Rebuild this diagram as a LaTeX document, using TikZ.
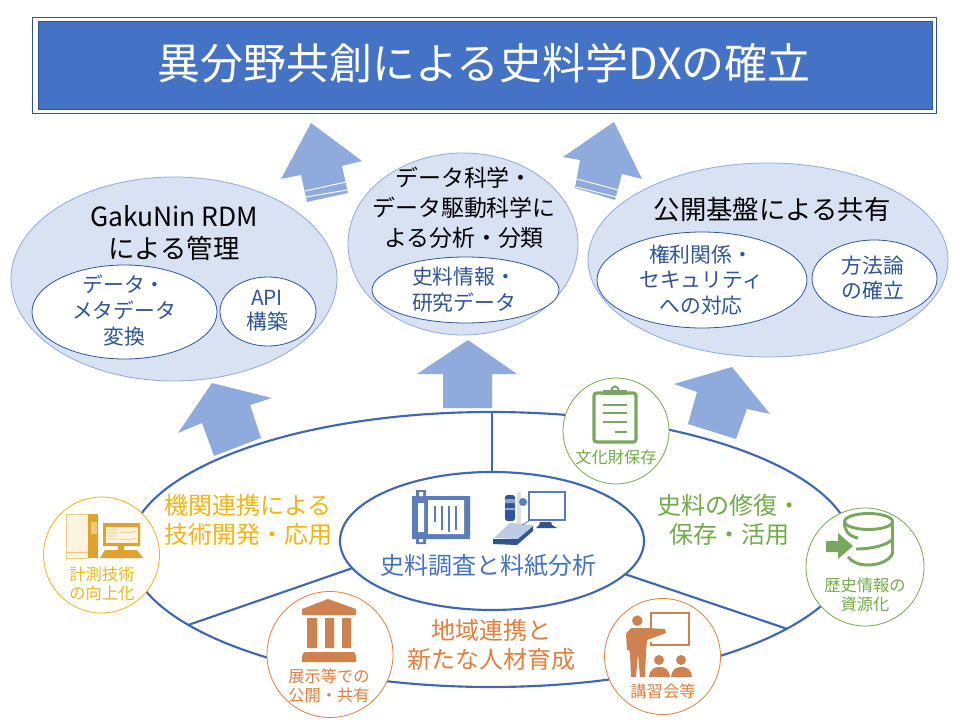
\documentclass[tikz,border=0pt]{standalone}
\usepackage{xcolor}
\usepackage{fontspec}
\setmainfont{Noto Sans CJK JP}
\usetikzlibrary{shapes,arrows,positioning}
\definecolor{titleblue}{HTML}{4472C4}
\definecolor{darkblue}{HTML}{2F5597}
\definecolor{arrowblue}{HTML}{8FAADC}
\definecolor{paleblue}{HTML}{D9E2F3}
\definecolor{ringblue}{HTML}{3F68B0}
\definecolor{iconblue}{HTML}{5B7DBB}
\definecolor{gold}{HTML}{F5B50F}
\definecolor{iconGold}{HTML}{DFA32B}
\definecolor{paleGold}{HTML}{FDF3E0}
\definecolor{rust}{HTML}{E27F3C}
\definecolor{iconRust}{HTML}{CE8250}
\definecolor{leaf}{HTML}{70AD47}
\definecolor{iconLeaf}{HTML}{78A85F}
\tikzset{
    bubble/.style={ellipse, draw=arrowblue, fill=paleblue, line width=0.6pt, inner sep=0pt, outer sep=0pt},
    topic/.style={ellipse, draw=darkblue, fill=white, line width=0.6pt, inner sep=0pt, outer sep=0pt},
    badge/.style={circle, draw=#1, fill=white, line width=0.6pt, inner sep=0pt, outer sep=0pt},
    wheel/.style={ellipse, draw=ringblue, line width=1.6pt, inner sep=0pt, outer sep=0pt},
    bigarrow/.style={fill=arrowblue, draw=none},
    headtext/.style={align=center, inner sep=0pt, font=\fontsize{19.8}{#1}\selectfont},
    topictext/.style={align=center, inner sep=0pt, text=darkblue, font=\fontsize{15.6}{#1}\selectfont},
    fieldtext/.style={align=center, inner sep=0pt, text=#1, font=\fontsize{18}{21.6}\selectfont},
    badgetext/.style={align=center, inner sep=0pt, text=#1, font=\fontsize{12.2}{14.3}\selectfont},
}
\begin{document}
\begin{tikzpicture}[x=0.75pt, y=-0.75pt]
    \useasboundingbox (0,0) rectangle (960,720);
    \fill[white] (0,0) rectangle (960,720);
    % title
    \draw[fill=white, draw=darkblue, line width=0.6pt] (32,17) rectangle (936,113);
    \draw[fill=titleblue, draw=darkblue, line width=0.6pt] (38,21) rectangle (932,109);
    \node[text=white, inner sep=0pt, font=\fontsize{32.2}{38}\selectfont] (title) at (484,63) {異分野共創による史料学DXの確立};
    % upper bubbles
    \node[bubble, minimum width=244.5pt, minimum height=153pt] (rdm) at (174,279) {};
    \node[topic, minimum width=138.75pt, minimum height=70.5pt] (rdmconv) at (124.5,312) {};
    \node[topic, minimum width=72pt, minimum height=51.75pt] (rdmapi) at (268,311.5) {};
    \node[bubble, minimum width=172.5pt, minimum height=136.5pt] (analysis) at (463,244) {};
    \node[topic, minimum width=140.25pt, minimum height=49.5pt] (analysisdata) at (465.5,290) {};
    \node[bubble, minimum width=270pt, minimum height=145.5pt] (share) at (768,260) {};
    \node[topic, minimum width=157.5pt, minimum height=72pt] (sharerights) at (702,280) {};
    \node[topic, minimum width=93.75pt, minimum height=57.75pt] (sharemethod) at (874.5,278.5) {};
    \node[headtext=24] (rdmhead) at (174,233) {GakuNin RDM\\による管理};
    \node[topictext=19.5] (rdmconvtext) at (124,311) {データ・\\メタデータ\\変換};
    \node[topictext=18] (rdmapitext) at (267,310.5) {API\\構築};
    \node[headtext=22.5, font=\fontsize{17.2}{22.5}\selectfont] (analysishead) at (464,208) {データ科学・\\データ駆動科学に\\よる分析・分類};
    \node[topictext=19] (analysisdatatext) at (464,289.5) {史料情報・\\研究データ};
    \node[headtext=24] (sharehead) at (772,209.5) {公開基盤による共有};
    \node[topictext=18.8] (sharerightstext) at (701,280) {権利関係・\\セキュリティ\\への対応};
    \node[topictext=18.8] (sharemethodtext) at (873,278.5) {方法論\\の確立};
    % block arrows
    \fill[bigarrow] (311,123) -- (362,161) -- (342,166) -- (348,193) -- (307,202) -- (301,175) -- (281,179) -- cycle;
    \draw[white, line width=0.7pt] (305,191) -- (346,182) (306,197) -- (347,190);
    \fill[bigarrow] (614,122) -- (642,179) -- (622,174) -- (615,200) -- (575,188) -- (580,160) -- (563,157) -- cycle;
    \draw[white, line width=0.7pt] (577,179) -- (618,190) (576,187) -- (616,197);
    \fill[bigarrow] (468,340) -- (517,374) -- (492,374) -- (492,408) -- (443,408) -- (443,374) -- (417,374) -- cycle;
    \fill[bigarrow] (212,383) -- (272,398) -- (250,405) -- (261,438) -- (214,456) -- (202,423) -- (178,433) -- cycle;
    \fill[bigarrow] (732,367) -- (770,414) -- (747,409) -- (736,439) -- (688,424) -- (697,392) -- (674,384) -- cycle;
    % lower wheel
    \node[wheel, minimum width=543pt, minimum height=206.25pt] (ring) at (491,549.5) {};
    \node[wheel, minimum width=228pt, minimum height=103.5pt] (hub) at (492,541) {};
    \draw[ringblue, line width=1.6pt] (ring.north -| hub.north) -- (hub.north);
    \draw[ringblue, line width=1.6pt] (ring.194.65) -- (hub.191.3);
    \draw[ringblue, line width=1.6pt] (ring.-15.6) -- (hub.-14.7);
    \node[fieldtext=titleblue] (hubtext) at (488.5,566) {史料調査と料紙分析};
    \node[fieldtext=gold] (techtext) at (248,520) {機関連携による\\技術開発・応用};
    \node[fieldtext=rust] (regiontext) at (491,645) {地域連携と\\新たな人材育成};
    \node[fieldtext=leaf] (repairtext) at (729,520) {史料の修復・\\保存・活用};
    % badges
    \node[badge=gold, minimum size=87pt] (measure) at (101.5,555) {};
    \node[badge=rust, minimum size=94.5pt] (exhibit) at (330,654.5) {};
    \node[badge=leaf, minimum size=79.5pt] (heritage) at (616,431) {};
    \node[badge=leaf, minimum size=88.5pt] (resource) at (865,567) {};
    \node[badge=rust, minimum size=87pt] (lecture) at (662.5,656.5) {};
    \node[badgetext=gold] (measuretext) at (102,584) {計測技術\\の向上化};
    \node[badgetext=rust] (exhibittext) at (329,686) {展示等での\\公開・共有};
    \node[badgetext=leaf] (heritagetext) at (616,457.5) {文化財保存};
    \node[badgetext=leaf] (resourcetext) at (865,595) {歴史情報の\\資源化};
    \node[badgetext=rust] (lecturetext) at (663,691.5) {講習会等};
    % scroll icon
    \fill[iconblue] (412,496) rectangle (470,539) (416,490) rectangle (426,496) (416,539) rectangle (426,544);
    \fill[white] (418,503) rectangle (424,532) (428,500) rectangle (464,534) (419,492) rectangle (423,496) (419,539) rectangle (423,542);
    \draw[iconblue, line width=1pt] (435,506) -- (435,522) (442,506) -- (442,530) (449,506) -- (449,532) (456,506) -- (456,530);
    % microscope icon
    \fill[gray!25] (517,492) rectangle (521,524);
    \fill[iconblue!40] (494,538) -- (510,523) -- (533,525) -- (518,539) -- cycle;
    \fill[darkblue] (493,539) -- (518,539) -- (533,526) -- (533,531) -- (517,545) -- (493,544) -- cycle;
    \fill[darkblue, rounded corners=2pt] (505,495) rectangle (515,521);
    \fill[iconblue!70] (505,499) rectangle (515,503) (505,508) rectangle (515,510);
    \fill[iconblue] (523,502) circle (4);
    \draw[iconblue, line width=1.6pt] (529,492) rectangle (565,520);
    \fill[darkblue] (540,522) -- (551,522) -- (552,525) -- (557,528) -- (536,528) -- (539,525) -- cycle;
    \draw[iconblue, line width=0.6pt] (529,521) -- (522,525);
    % instrument icon
    \fill[paleGold] (66,514) rectangle (88,558);
    \draw[iconGold!60, line width=0.4pt] (66,514) rectangle (88,558) (66,552) -- (88,552);
    \fill[iconGold] (88,514) rectangle (98,558);
    \fill[iconGold!60] (91,522) rectangle (97,534);
    \fill[iconGold] (103,523) rectangle (140,546) (118,546) rectangle (124,550);
    \fill[iconGold] (105,550) -- (137,550) -- (143,558) -- (100,558) -- cycle;
    \fill[paleGold] (106,527) rectangle (138,543);
    \draw[iconGold!70, line width=0.4pt] (107,530) -- (117,530) (107,533) -- (117,533) (107,536) -- (117,536) (107,539) -- (117,539) (119,533) -- (124,532) -- (129,533) -- (137,531) (119,540) -- (124,539) -- (129,540) -- (137,538);
    % museum icon
    \fill[iconRust] (302,609) -- (328,599) -- (356,609) -- (356,615) -- (302,615) -- cycle;
    \fill[iconRust] (307,618) rectangle (317,648) (325,618) rectangle (334,648) (342,618) rectangle (351,648);
    \fill[iconRust] (304,652) -- (354,652) -- (356,656) -- (356,662) -- (302,662) -- (302,656) -- cycle;
    % clipboard icon
    \draw[iconLeaf, line width=2.4pt, rounded corners=2pt] (594,393) rectangle (636,442);
    \fill[iconLeaf] (603,390) rectangle (627,395);
    \draw[iconLeaf, line width=1.5pt] (615,390) circle (3.5);
    \draw[iconLeaf, line width=2pt] (603,405) -- (627,405) (603,413) -- (627,413) (603,422) -- (627,422) (615,432) -- (627,432);
    % database icon
    \draw[iconLeaf, line width=2.2pt] (868.5,521.5) ellipse (24 and 8);
    \draw[iconLeaf, line width=2.2pt] (844.5,521.5) .. controls (844,530) and (848,536) .. (858,538);
    \draw[iconLeaf, line width=2.2pt] (892.5,521.5) -- (892.5,553) .. controls (890,561) and (878,565) .. (868,565) .. controls (859,565) and (852,562) .. (848,557);
    \draw[iconLeaf, line width=2.2pt] (892.5,539) .. controls (888,545) and (872,549) .. (856,549);
    \fill[iconLeaf] (826,541) -- (838,541) -- (838,533) -- (853,546) -- (838,559) -- (838,552) -- (826,552) -- cycle;
    % lecture icon
    \draw[iconRust, line width=2.2pt] (651,630) -- (651,613) -- (689,613) -- (689,645) -- (651,645) -- (651,642);
    \fill[iconRust] (637.3,620.7) circle (5.3);
    \fill[iconRust] (626,634) -- (631,628) -- (646,628) -- (665,629) -- (666,633) -- (647,640) -- (646,652) -- (645,677) -- (640,677) -- (638,654) -- (636,677) -- (631,677) -- (630,653) -- (629,650) -- (627,650) -- cycle;
    \fill[iconRust] (659,660) circle (5) (681,660) circle (5);
    \fill[iconRust] (649,677) .. controls (650,669) and (654,667) .. (659.5,667) .. controls (665,667) and (669,669) .. (670,677) -- cycle;
    \fill[iconRust] (671,677) .. controls (672,669) and (676,667) .. (681.5,667) .. controls (687,667) and (691,669) .. (692,677) -- cycle;
\end{tikzpicture}
\end{document}
